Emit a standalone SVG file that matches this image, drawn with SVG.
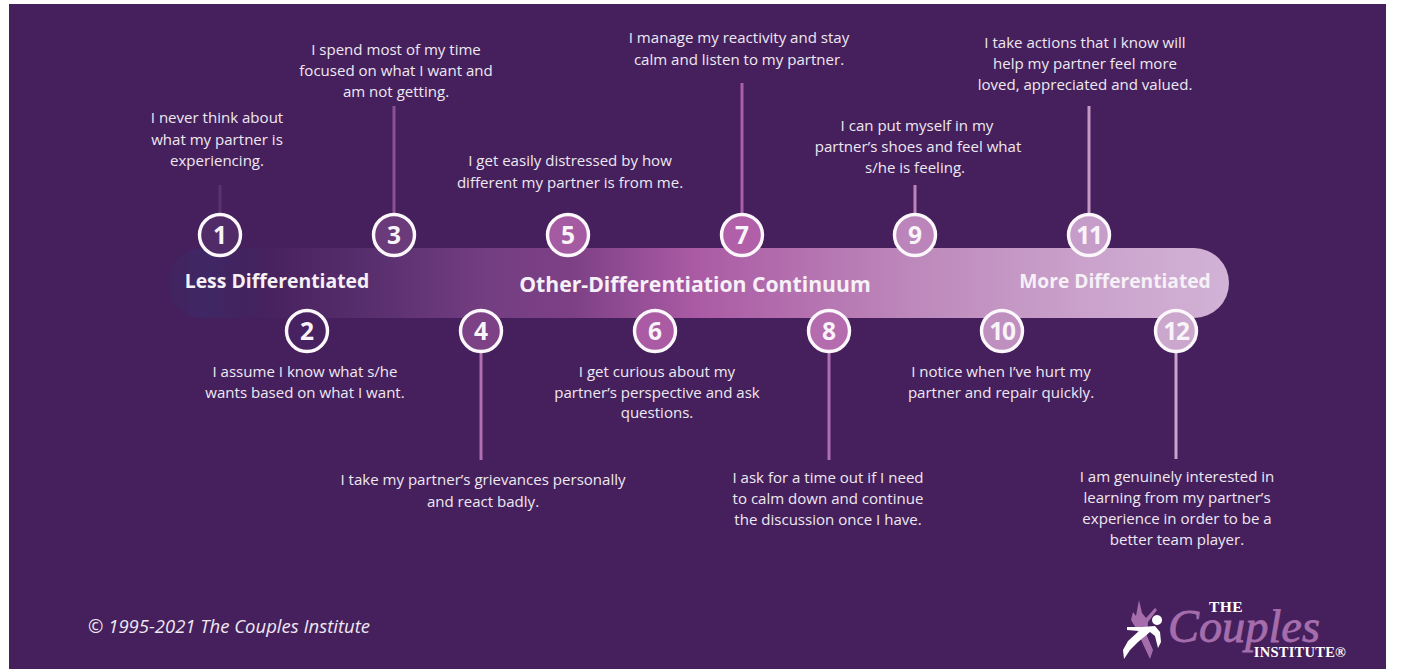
<svg xmlns="http://www.w3.org/2000/svg" width="1403" height="672" viewBox="0 0 1403 672">
<style>
text{font-family:"Open Sans","Noto Sans","DejaVu Sans",sans-serif;fill:#efe8f2}
.d{font-size:15.05px;text-anchor:middle}
.n{font-size:24.5px;font-weight:700;text-anchor:middle;fill:#f8f4f9}
.w{letter-spacing:-1.2px}
.c{stroke:#fbf7fb;stroke-width:3.4}
.b{font-weight:700;fill:#f6f0f7;text-anchor:middle}
.l{stroke-width:3;fill:none}
.s{font-family:"Liberation Serif","Times New Roman",serif;font-weight:700;fill:#fff;text-anchor:middle}
</style>
<defs>
<linearGradient id="bar" gradientUnits="userSpaceOnUse" x1="168" y1="0" x2="1229" y2="0">
<stop offset="0" stop-color="#42235f"/>
<stop offset="0.035" stop-color="#3f2765"/>
<stop offset="0.07" stop-color="#42235f"/>
<stop offset="0.1" stop-color="#48225e"/>
<stop offset="0.2" stop-color="#5a306f"/>
<stop offset="0.3" stop-color="#743e82"/>
<stop offset="0.38" stop-color="#7d4085"/>
<stop offset="0.5" stop-color="#ab5ba4"/>
<stop offset="0.7" stop-color="#bd88bb"/>
<stop offset="0.85" stop-color="#c9a0ca"/>
<stop offset="1" stop-color="#d2b2d6"/>
</linearGradient>
</defs>
<rect width="1403" height="672" fill="#fff"/>
<rect x="9" y="4" width="1377" height="665" fill="#45205c"/>
<g id="bar-group">
<rect x="168" y="248" width="1061" height="70" rx="35" fill="url(#bar)"/>
<text class="b" x="277" y="288" font-size="19.4">Less Differentiated</text>
<text class="b" x="695" y="292" font-size="21.2">Other-Differentiation Continuum</text>
<text class="b" x="1115" y="288" font-size="19.2">More Differentiated</text>
</g>
<g id="connectors">
<line class="l" x1="220" y1="185" x2="220" y2="214" stroke="#5a3270"/>
<line class="l" x1="394" y1="106" x2="394" y2="214" stroke="#8a5294"/>
<line class="l" x1="481" y1="352" x2="481" y2="460" stroke="#b06fb0"/>
<line class="l" x1="742" y1="83" x2="742" y2="214" stroke="#ac5fa8"/>
<line class="l" x1="829" y1="352" x2="829" y2="460" stroke="#b06fb0"/>
<line class="l" x1="915" y1="185" x2="915" y2="214" stroke="#bb84ba"/>
<line class="l" x1="1089" y1="106" x2="1089" y2="214" stroke="#c49ac5"/>
<line class="l" x1="1176" y1="352" x2="1176" y2="459" stroke="#c9a5cb"/>
</g>
<g id="node-1"><circle class="c" cx="220" cy="235" r="20.5" fill="#512a68"/><text class="n" x="220" y="244">1</text>
<text class="d" x="217" y="123">I never think about</text><text class="d" x="217" y="145">what my partner is</text><text class="d" x="217" y="166">experiencing.</text></g>
<g id="node-2"><circle class="c" cx="307" cy="331" r="20.5" fill="#482260"/><text class="n" x="307" y="340">2</text>
<text class="d" x="305" y="377">I assume I know what s/he</text><text class="d" x="305" y="398">wants based on what I want.</text></g>
<g id="node-3"><circle class="c" cx="394" cy="235" r="20.5" fill="#6a3a7a"/><text class="n" x="394" y="244">3</text>
<text class="d" x="396" y="55">I spend most of my time</text><text class="d" x="396" y="76">focused on what I want and</text><text class="d" x="396" y="97">am not getting.</text></g>
<g id="node-4"><circle class="c" cx="481" cy="331" r="20.5" fill="#7c4285"/><text class="n" x="481" y="340">4</text>
<text class="d" x="483" y="485">I take my partner’s grievances personally</text><text class="d" x="483" y="507">and react badly.</text></g>
<g id="node-5"><circle class="c" cx="568" cy="235" r="20.5" fill="#a55ba1"/><text class="n" x="568" y="244">5</text>
<text class="d" x="570" y="166">I get easily distressed by how</text><text class="d" x="570" y="188">different my partner is from me.</text></g>
<g id="node-6"><circle class="c" cx="655" cy="331" r="20.5" fill="#ab5ba4"/><text class="n" x="655" y="340">6</text>
<text class="d" x="657" y="377">I get curious about my</text><text class="d" x="657" y="398">partner’s perspective and ask</text><text class="d" x="657" y="418">questions.</text></g>
<g id="node-7"><circle class="c" cx="742" cy="235" r="20.5" fill="#b05fa8"/><text class="n" x="742" y="244">7</text>
<text class="d" x="739" y="43">I manage my reactivity and stay</text><text class="d" x="739" y="65">calm and listen to my partner.</text></g>
<g id="node-8"><circle class="c" cx="829" cy="331" r="20.5" fill="#b56cae"/><text class="n" x="829" y="340">8</text>
<text class="d" x="828" y="483">I ask for a time out if I need</text><text class="d" x="828" y="504">to calm down and continue</text><text class="d" x="828" y="525">the discussion once I have.</text></g>
<g id="node-9"><circle class="c" cx="915" cy="235" r="20.5" fill="#bb84ba"/><text class="n" x="915" y="244">9</text>
<text class="d" x="917" y="131">I can put myself in my</text><text class="d" x="918" y="152">partner’s shoes and feel what</text><text class="d" x="915" y="173">s/he is feeling.</text></g>
<g id="node-10"><circle class="c" cx="1002" cy="331" r="20.5" fill="#bf8fc0"/><text class="n w" x="1002" y="340">10</text>
<text class="d" x="1001" y="377">I notice when I’ve hurt my</text><text class="d" x="1001" y="398">partner and repair quickly.</text></g>
<g id="node-11"><circle class="c" cx="1089" cy="235" r="20.5" fill="#c69dc8"/><text class="n w" x="1089" y="244">11</text>
<text class="d" x="1085" y="48">I take actions that I know will</text><text class="d" x="1085" y="69">help my partner feel more</text><text class="d" x="1085" y="90">loved, appreciated and valued.</text></g>
<g id="node-12"><circle class="c" cx="1176" cy="331" r="20.5" fill="#cba6cd"/><text class="n w" x="1176" y="340">12</text>
<text class="d" x="1177" y="482">I am genuinely interested in</text><text class="d" x="1177" y="503">learning from my partner’s</text><text class="d" x="1177" y="524">experience in order to be a</text><text class="d" x="1177" y="545">better team player.</text></g>
<text x="88" y="633" font-size="18.5" font-style="italic" fill="#efe8f2">© 1995-2021 The Couples Institute</text>
<g id="logo">
<path d="M1139 600 L1142 613 L1146 618 L1155 608 L1157 610 L1148 622 L1147 636 L1153 650 L1150 659 L1143 644 L1137 630 L1131 620 L1133 612 L1136 616Z" fill="#a56dac"/>
<path d="M1157 625 a5 5 0 1 1 .1 0Z M1155 626 L1160 632 L1161 642 L1158 648 L1155 636 L1150 632 L1138 642 L1130 650 L1124 659 L1123 650 L1128 641 L1139 631 L1127 630 L1127 627 L1142 627Z" fill="#fff"/>
<text x="1226" y="612" class="s" font-size="15.5" letter-spacing=".4">THE</text>
<text x="1244" y="642" font-style="italic" font-size="46" text-anchor="middle" stroke="#a56dac" stroke-width=".8" style="font-family:'Liberation Serif',serif;fill:#a56dac" textLength="152" lengthAdjust="spacingAndGlyphs">Couples</text>
<text x="1300" y="657" class="s" font-size="14.5" letter-spacing=".25">INSTITUTE®</text>
</g>
</svg>
